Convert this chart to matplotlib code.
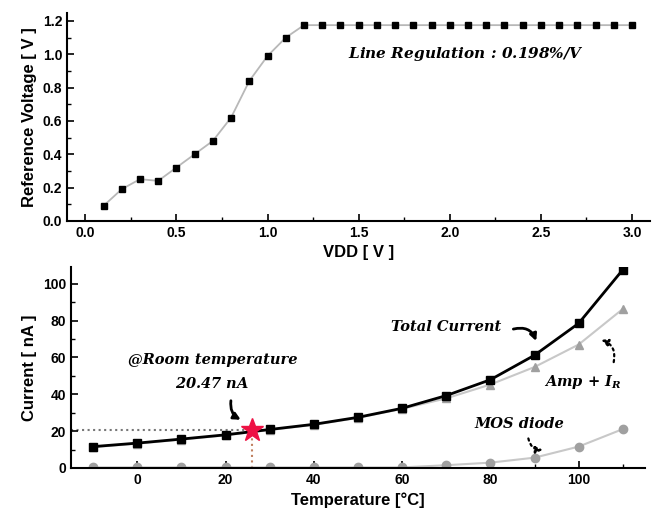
import matplotlib
matplotlib.use('Agg')
import matplotlib.pyplot as plt
from matplotlib.ticker import MultipleLocator

plt.rcParams['font.family'] = 'Liberation Sans'
plt.rcParams['font.weight'] = 'bold'
plt.rcParams['mathtext.fontset'] = 'custom'
plt.rcParams['mathtext.it'] = 'DejaVu Serif:italic:bold'
plt.rcParams['mathtext.rm'] = 'DejaVu Serif:bold'

# top panel: reference voltage vs supply
vdd = [0.1, 0.2, 0.3, 0.4, 0.5, 0.6, 0.7, 0.8, 0.9, 1.0,
       1.1, 1.2, 1.3, 1.4, 1.5, 1.6, 1.7, 1.8, 1.9, 2.0,
       2.1, 2.2, 2.3, 2.4, 2.5, 2.6, 2.7, 2.8, 2.9, 3.0]
vref = [0.09, 0.19, 0.25, 0.24, 0.32, 0.40, 0.48, 0.62, 0.84, 0.99,
        1.10, 1.175, 1.175, 1.175, 1.175, 1.175, 1.175, 1.175, 1.175, 1.175,
        1.175, 1.175, 1.175, 1.175, 1.175, 1.175, 1.175, 1.175, 1.175, 1.175]

# bottom panel: current vs temperature
temp = [-10, 0, 10, 20, 30, 40, 50, 60, 70, 80, 90, 100, 110]
total_cur = [11.6, 13.5, 15.7, 18.0, 20.9, 23.7, 27.5, 32.4, 39.3, 47.9, 61.2, 78.5, 107.6]
amp_ir = [11.3, 13.2, 15.4, 17.7, 20.6, 23.4, 27.2, 32.1, 37.8, 45.3, 54.8, 67.0, 86.3]
mos_diode = [0.3, 0.3, 0.3, 0.3, 0.3, 0.3, 0.3, 0.3, 1.5, 2.9, 5.6, 11.6, 21.1]
room_t = 26
room_i = 20.47

fig = plt.figure(figsize=(6.71, 5.27), dpi=100)

ax1 = fig.add_axes([0.100, 0.581, 0.869, 0.395])
ax1.plot(vdd, vref, color='#b8b8b8', lw=1.3, marker='s', ms=5,
         mfc='black', mec='black', zorder=3)
ax1.set_xlim(-0.1, 3.1)
ax1.set_ylim(0, 1.25)
ax1.xaxis.set_major_locator(MultipleLocator(0.5))
ax1.xaxis.set_minor_locator(MultipleLocator(0.25))
ax1.yaxis.set_major_locator(MultipleLocator(0.2))
ax1.yaxis.set_minor_locator(MultipleLocator(0.1))
ax1.set_xlabel('VDD [ V ]', fontsize=12, fontweight='bold', labelpad=4)
ax1.set_ylabel('Reference Voltage [ V ]', fontsize=12, fontweight='bold')
ax1.text(1.44, 1.0, 'Line Regulation : 0.198%/$V$', fontsize=11,
         family='DejaVu Serif', style='italic', fontweight='bold', va='center')

ax2 = fig.add_axes([0.106, 0.112, 0.855, 0.381])
ax2.plot(temp, amp_ir, color='#c8c8c8', lw=1.5, marker='^', ms=6,
         mfc='#a0a0a0', mec='#a0a0a0', zorder=2)
ax2.plot(temp, mos_diode, color='#c8c8c8', lw=1.5, marker='o', ms=6,
         mfc='#a0a0a0', mec='#a0a0a0', zorder=2)
ax2.plot(temp, total_cur, color='black', lw=2, marker='s', ms=6,
         mfc='black', mec='black', zorder=3)
ax2.plot([-15, room_t], [room_i, room_i], ls=':', color='#777777', lw=1.5, zorder=1)
ax2.plot([room_t, room_t], [0, room_i], ls=':', color='#c08060', lw=1.5, zorder=1)
ax2.plot([room_t], [room_i], marker='*', ms=17, color='#ee1144', mec='#ee1144', zorder=4)
ax2.set_xlim(-15, 115)
ax2.set_ylim(0, 109)
ax2.xaxis.set_major_locator(MultipleLocator(20))
ax2.xaxis.set_minor_locator(MultipleLocator(10))
ax2.yaxis.set_major_locator(MultipleLocator(20))
ax2.yaxis.set_minor_locator(MultipleLocator(10))
ax2.set_xlabel('Temperature [°C]', fontsize=12, fontweight='bold', labelpad=4)
ax2.set_ylabel('Current [ nA ]', fontsize=12, fontweight='bold')

serif = dict(family='DejaVu Serif', style='italic', fontweight='bold', fontsize=10.5)
ax2.text(17, 58.5, '@Room temperature', ha='center', va='center', **serif)
ax2.text(17, 46, '20.47 $nA$', ha='center', va='center', **serif)
ax2.annotate('', xy=(24, 25.5), xytext=(21.3, 38),
             arrowprops=dict(arrowstyle='-|>', color='black', lw=2,
                             connectionstyle='arc3,rad=0.4'))
ax2.text(70, 76.5, 'Total Current', ha='center', va='center', **serif)
ax2.annotate('', xy=(90.6, 67.5), xytext=(84.6, 75),
             arrowprops=dict(arrowstyle='-|>', color='black', lw=2,
                             connectionstyle='arc3,rad=-0.5'))
ax2.text(101, 46.5, 'Amp + $I_R$', ha='center', va='center', **serif)
ax2.annotate('', xy=(104.5, 70), xytext=(107.8, 56),
             arrowprops=dict(arrowstyle='-|>', color='black', lw=1.6, ls=':',
                             connectionstyle='arc3,rad=0.5'))
ax2.text(86.5, 24, 'MOS diode', ha='center', va='center', **serif)
ax2.annotate('', xy=(92.5, 10), xytext=(88.5, 17.5),
             arrowprops=dict(arrowstyle='-|>', color='black', lw=1.6, ls=':',
                             connectionstyle='arc3,rad=0.5'))

for ax in (ax1, ax2):
    ax.spines['top'].set_visible(False)
    ax.spines['right'].set_visible(False)
    ax.spines['left'].set_linewidth(1.5)
    ax.spines['bottom'].set_linewidth(1.5)
    ax.tick_params(which='major', direction='in', length=5, width=1.2, labelsize=10)
    ax.tick_params(which='minor', direction='in', length=3, width=1.0)
    for lab in ax.get_xticklabels() + ax.get_yticklabels():
        lab.set_fontweight('bold')

fig.savefig('out.png', dpi=100)
